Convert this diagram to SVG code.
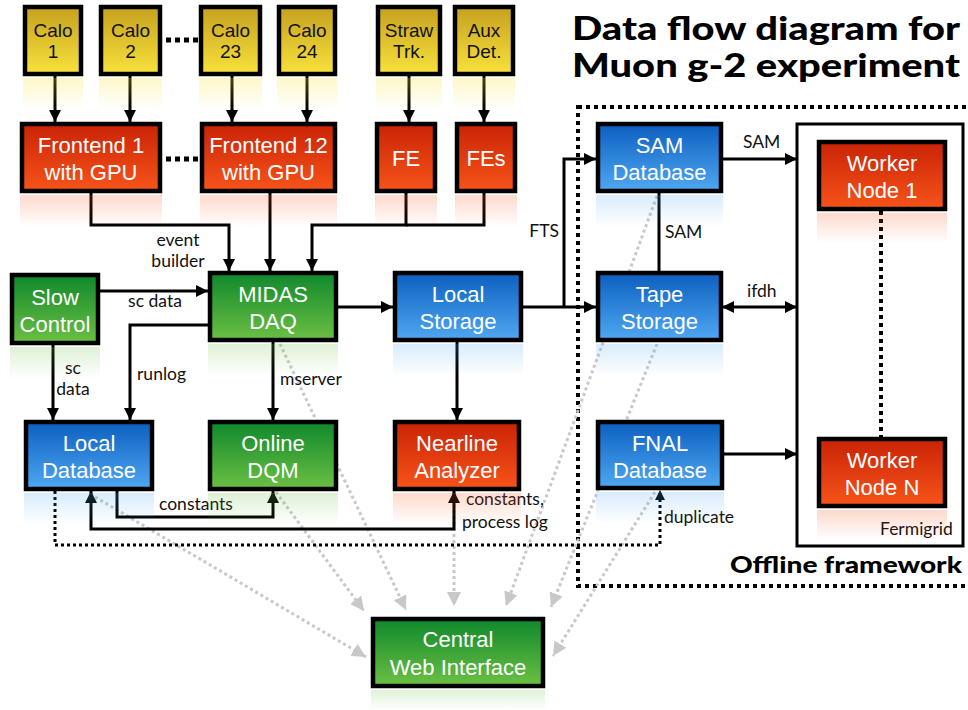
<svg xmlns="http://www.w3.org/2000/svg" width="968" height="710" viewBox="0 0 968 710">
  <style>
    .box { stroke: #000; stroke-width: 4.5; }
    .lbl { font-family: "Liberation Sans", Arial, sans-serif; font-size: 22px; fill: #fff; text-anchor: middle; }
    .ylbl { font-family: "Liberation Sans", Arial, sans-serif; font-size: 19px; fill: #111; text-anchor: middle; }
    .note { font-family: Lato, "Open Sans", sans-serif; font-size: 17.5px; fill: #111; }
    .title { font-family: Lato, "Open Sans", sans-serif; font-weight: 900; fill: #000; }
    .wire { fill: none; stroke: #000; stroke-width: 3; }
    .web { fill: none; stroke: #c8c8c8; stroke-width: 3; stroke-dasharray: 3 3; marker-end: url(#ahGrey); }
    .dots { fill: none; stroke: #000; stroke-width: 4; stroke-dasharray: 4 4; }
    .fine { fill: none; stroke: #000; stroke-width: 3; stroke-dasharray: 3 3; }
  </style>
  <defs>
    <linearGradient id="gYel" x1="0" y1="0" x2="0" y2="1"><stop offset="0" stop-color="#c6a11f"/><stop offset="1" stop-color="#f8e23c"/></linearGradient>
    <linearGradient id="gRed" x1="0" y1="0" x2="0" y2="1"><stop offset="0" stop-color="#c92306"/><stop offset="1" stop-color="#f7541a"/></linearGradient>
    <linearGradient id="gGrn" x1="0" y1="0" x2="0" y2="1"><stop offset="0" stop-color="#0f882c"/><stop offset="1" stop-color="#6cc043"/></linearGradient>
    <linearGradient id="gBlu" x1="0" y1="0" x2="0" y2="1"><stop offset="0" stop-color="#0c5fbf"/><stop offset="1" stop-color="#4fa8f2"/></linearGradient>
    <!-- faded mirror glow under each box -->
    <linearGradient id="rYel" x1="0" y1="0" x2="0" y2="1"><stop offset="0" stop-color="#f8e23c" stop-opacity="0.28"/><stop offset="1" stop-color="#f8e23c" stop-opacity="0"/></linearGradient>
    <linearGradient id="rRed" x1="0" y1="0" x2="0" y2="1"><stop offset="0" stop-color="#f7541a" stop-opacity="0.22"/><stop offset="1" stop-color="#f7541a" stop-opacity="0"/></linearGradient>
    <linearGradient id="rGrn" x1="0" y1="0" x2="0" y2="1"><stop offset="0" stop-color="#6cc043" stop-opacity="0.22"/><stop offset="1" stop-color="#6cc043" stop-opacity="0"/></linearGradient>
    <linearGradient id="rBlu" x1="0" y1="0" x2="0" y2="1"><stop offset="0" stop-color="#4fa8f2" stop-opacity="0.22"/><stop offset="1" stop-color="#4fa8f2" stop-opacity="0"/></linearGradient>
    <marker id="ah" viewBox="0 0 12 12" refX="12" refY="6" markerWidth="12" markerHeight="12" markerUnits="userSpaceOnUse" orient="auto-start-reverse">
      <path d="M0,0 L12,6 L0,12 z" fill="#000"/>
    </marker>
    <marker id="ahSmall" viewBox="0 0 10 10" refX="10" refY="5" markerWidth="10" markerHeight="10" markerUnits="userSpaceOnUse" orient="auto">
      <path d="M0,0 L10,5 L0,10 z" fill="#000"/>
    </marker>
    <marker id="ahGrey" viewBox="0 0 14 14" refX="14" refY="7" markerWidth="14" markerHeight="14" markerUnits="userSpaceOnUse" orient="auto">
      <path d="M0,0 L14,7 L0,14 z" fill="#c8c8c8"/>
    </marker>
  </defs>

  <rect width="968" height="710" fill="#fff"/>

  <!-- title -->
  <g id="title">
    <text class="title" x="572" y="40" font-size="32" textLength="388" lengthAdjust="spacingAndGlyphs">Data flow diagram for</text>
    <text class="title" x="572" y="77" font-size="32" textLength="388" lengthAdjust="spacingAndGlyphs">Muon g-2 experiment</text>
  </g>

  <!-- offline framework region -->
  <g id="offline">
    <rect class="dots" x="578" y="107" width="394" height="479"/>
    <text class="title" x="730" y="573" font-size="22" textLength="232" lengthAdjust="spacingAndGlyphs">Offline framework</text>
  </g>

  <!-- fermigrid container -->
  <g id="fermigrid">
    <rect x="797" y="124" width="166" height="422" fill="#fff" stroke="#000" stroke-width="3"/>
    <text class="note" x="880" y="535" font-size="16">Fermigrid</text>
  </g>

  <!-- connectors -->
  <g id="connectors">
    <!-- web interface feeds -->
    <path class="web" d="M90,494 L366,657"/>
    <path class="web" d="M276,492 L364,611"/>
    <path class="web" d="M280,344 L406,610"/>
    <path class="web" d="M454,492 V606"/>
    <path class="web" d="M657,196 L506,606"/>
    <path class="web" d="M657,344 L551,607"/>
    <path class="web" d="M655,492 L553,656"/>

    <!-- detectors to frontends -->
    <path class="wire" d="M55,76 V122" marker-end="url(#ah)"/>
    <path class="wire" d="M130,76 V122" marker-end="url(#ah)"/>
    <path class="wire" d="M232,76 V122" marker-end="url(#ah)"/>
    <path class="wire" d="M307,76 V122" marker-end="url(#ah)"/>
    <path class="wire" d="M409,76 V122" marker-end="url(#ah)"/>
    <path class="wire" d="M484,76 V122" marker-end="url(#ah)"/>
    <path d="M166,40 H198" stroke="#000" stroke-width="5" stroke-dasharray="5 4"/>
    <path d="M166,159 H198" stroke="#000" stroke-width="5" stroke-dasharray="5 4"/>

    <!-- event builder -->
    <path class="wire" d="M91,193 V225 H229 V271" marker-end="url(#ah)"/>
    <path class="wire" d="M270,193 V271" marker-end="url(#ah)"/>
    <path class="wire" d="M406,193 V225 H312 V271" marker-end="url(#ah)"/>
    <path class="wire" d="M484,193 V225 H406"/>

    <!-- DAQ data path -->
    <path class="wire" d="M100,291 H208" marker-end="url(#ah)"/>
    <path class="wire" d="M338,307 H393" marker-end="url(#ah)"/>
    <path class="wire" d="M523,307 H596" marker-end="url(#ah)"/>
    <path class="wire" d="M564,307 V159 H596" marker-end="url(#ah)"/>
    <path class="wire" d="M722,159 H797" marker-end="url(#ah)"/>
    <path class="wire" d="M659,193 V271"/>
    <path class="wire" d="M722,307 H797" marker-start="url(#ah)" marker-end="url(#ah)"/>
    <path class="wire" d="M723,454 H797" marker-end="url(#ah)"/>

    <!-- downstream of DAQ -->
    <path class="wire" d="M208,325 H130 V420" marker-end="url(#ah)"/>
    <path class="wire" d="M53,345 V420" marker-end="url(#ah)"/>
    <path class="wire" d="M273,342 V420" marker-end="url(#ah)"/>
    <path class="wire" d="M457,342 V420" marker-end="url(#ah)"/>

    <!-- constants loops -->
    <path class="wire" d="M117,491 V517 H273 V491" marker-end="url(#ah)"/>
    <path class="wire" d="M454,491 V529 H91 V491" marker-start="url(#ah)" marker-end="url(#ah)"/>
    <path class="fine" d="M55,491 V545 H660 V490" marker-end="url(#ahSmall)"/>

    <!-- worker nodes -->
    <path class="dots" d="M881,211 V437"/>

    <!-- labels -->
    <text class="note" x="178" y="246" text-anchor="middle">event</text>
    <text class="note" x="178" y="267" text-anchor="middle">builder</text>
    <text class="note" x="155" y="307" text-anchor="middle">sc data</text>
    <text class="note" x="73" y="374" text-anchor="middle">sc</text>
    <text class="note" x="73" y="395" text-anchor="middle">data</text>
    <text class="note" x="137" y="380">runlog</text>
    <text class="note" x="280" y="385">mserver</text>
    <text class="note" x="559" y="237" text-anchor="end">FTS</text>
    <text class="note" x="665" y="238">SAM</text>
    <text class="note" x="743" y="148">SAM</text>
    <text class="note" x="747" y="297">ifdh</text>
    <text class="note" x="159" y="510">constants</text>
    <text class="note" x="466" y="505">constants,</text>
    <text class="note" x="462" y="528">process log</text>
    <text class="note" x="664" y="523">duplicate</text>
  </g>

  <!-- detector readouts -->
  <g id="calo1">
    <rect x="23" y="78" width="60" height="32" fill="url(#rYel)"/>
    <rect class="box" x="25" y="7" width="56" height="67" fill="url(#gYel)"/>
    <text class="ylbl" x="53" y="37">Calo</text><text class="ylbl" x="53" y="58">1</text>
  </g>
  <g id="calo2">
    <rect x="99" y="78" width="63" height="32" fill="url(#rYel)"/>
    <rect class="box" x="101" y="7" width="59" height="67" fill="url(#gYel)"/>
    <text class="ylbl" x="130.5" y="37">Calo</text><text class="ylbl" x="130.5" y="58">2</text>
  </g>
  <g id="calo23">
    <rect x="199" y="78" width="63" height="32" fill="url(#rYel)"/>
    <rect class="box" x="201" y="7" width="59" height="67" fill="url(#gYel)"/>
    <text class="ylbl" x="230.5" y="37">Calo</text><text class="ylbl" x="230.5" y="58">23</text>
  </g>
  <g id="calo24">
    <rect x="277" y="78" width="60" height="32" fill="url(#rYel)"/>
    <rect class="box" x="279" y="7" width="56" height="67" fill="url(#gYel)"/>
    <text class="ylbl" x="307" y="37">Calo</text><text class="ylbl" x="307" y="58">24</text>
  </g>
  <g id="straw">
    <rect x="376" y="78" width="66" height="32" fill="url(#rYel)"/>
    <rect class="box" x="378" y="7" width="62" height="67" fill="url(#gYel)"/>
    <text class="ylbl" x="409" y="37" font-size="18">Straw</text><text class="ylbl" x="409" y="58" font-size="18">Trk.</text>
  </g>
  <g id="aux">
    <rect x="453" y="78" width="62" height="32" fill="url(#rYel)"/>
    <rect class="box" x="455" y="7" width="58" height="67" fill="url(#gYel)"/>
    <text class="ylbl" x="484" y="37" font-size="18">Aux</text><text class="ylbl" x="484" y="58" font-size="18">Det.</text>
  </g>

  <!-- frontends -->
  <g id="frontend1">
    <rect x="20" y="195" width="142" height="32" fill="url(#rRed)"/>
    <rect class="box" x="22" y="124" width="138" height="67" fill="url(#gRed)"/>
    <text class="lbl" x="91" y="153">Frontend 1</text><text class="lbl" x="91" y="180">with GPU</text>
  </g>
  <g id="frontend12">
    <rect x="200" y="195" width="137" height="32" fill="url(#rRed)"/>
    <rect class="box" x="202" y="124" width="133" height="67" fill="url(#gRed)"/>
    <text class="lbl" x="268.5" y="153">Frontend 12</text><text class="lbl" x="268.5" y="180">with GPU</text>
  </g>
  <g id="fe">
    <rect x="375" y="195" width="62" height="32" fill="url(#rRed)"/>
    <rect class="box" x="377" y="124" width="58" height="67" fill="url(#gRed)"/>
    <text class="lbl" x="406" y="166">FE</text>
  </g>
  <g id="fes">
    <rect x="455" y="195" width="62" height="32" fill="url(#rRed)"/>
    <rect class="box" x="457" y="124" width="58" height="67" fill="url(#gRed)"/>
    <text class="lbl" x="486" y="166">FEs</text>
  </g>

  <!-- online systems -->
  <g id="slowcontrol">
    <rect x="10" y="347" width="90" height="32" fill="url(#rGrn)"/>
    <rect class="box" x="12" y="275" width="86" height="68" fill="url(#gGrn)"/>
    <text class="lbl" x="55" y="305">Slow</text><text class="lbl" x="55" y="332">Control</text>
  </g>
  <g id="midas">
    <rect x="208" y="344" width="130" height="32" fill="url(#rGrn)"/>
    <rect class="box" x="210" y="273" width="126" height="67" fill="url(#gGrn)"/>
    <text class="lbl" x="273" y="302">MIDAS</text><text class="lbl" x="273" y="329">DAQ</text>
  </g>
  <g id="localstorage">
    <rect x="393" y="344" width="130" height="32" fill="url(#rBlu)"/>
    <rect class="box" x="395" y="273" width="126" height="67" fill="url(#gBlu)"/>
    <text class="lbl" x="458" y="302">Local</text><text class="lbl" x="458" y="329">Storage</text>
  </g>
  <g id="samdb">
    <rect x="596" y="195" width="127" height="32" fill="url(#rBlu)"/>
    <rect class="box" x="598" y="124" width="123" height="67" fill="url(#gBlu)"/>
    <text class="lbl" x="659.5" y="153">SAM</text><text class="lbl" x="659.5" y="180">Database</text>
  </g>
  <g id="tape">
    <rect x="596" y="344" width="127" height="32" fill="url(#rBlu)"/>
    <rect class="box" x="598" y="273" width="123" height="67" fill="url(#gBlu)"/>
    <text class="lbl" x="659.5" y="302">Tape</text><text class="lbl" x="659.5" y="329">Storage</text>
  </g>

  <g id="localdb">
    <rect x="24" y="493" width="130" height="32" fill="url(#rBlu)"/>
    <rect class="box" x="26" y="422" width="126" height="67" fill="url(#gBlu)"/>
    <text class="lbl" x="89" y="451">Local</text><text class="lbl" x="89" y="478">Database</text>
  </g>
  <g id="dqm">
    <rect x="208" y="493" width="130" height="32" fill="url(#rGrn)"/>
    <rect class="box" x="210" y="422" width="126" height="67" fill="url(#gGrn)"/>
    <text class="lbl" x="273" y="451">Online</text><text class="lbl" x="273" y="478">DQM</text>
  </g>
  <g id="nearline">
    <rect x="393" y="493" width="128" height="32" fill="url(#rRed)"/>
    <rect class="box" x="395" y="422" width="124" height="67" fill="url(#gRed)"/>
    <text class="lbl" x="457" y="451">Nearline</text><text class="lbl" x="457" y="478">Analyzer</text>
  </g>
  <g id="fnaldb">
    <rect x="596" y="492" width="128" height="32" fill="url(#rBlu)"/>
    <rect class="box" x="598" y="422" width="124" height="66" fill="url(#gBlu)"/>
    <text class="lbl" x="660" y="451">FNAL</text><text class="lbl" x="660" y="478">Database</text>
  </g>

  <!-- grid workers -->
  <g id="worker1">
    <rect x="817" y="213" width="130" height="30" fill="url(#rRed)"/>
    <rect class="box" x="819" y="142" width="126" height="67" fill="url(#gRed)"/>
    <text class="lbl" x="882" y="171">Worker</text><text class="lbl" x="882" y="198">Node 1</text>
  </g>
  <g id="workerN">
    <rect x="817" y="510" width="130" height="30" fill="url(#rRed)"/>
    <rect class="box" x="819" y="439" width="126" height="67" fill="url(#gRed)"/>
    <text class="lbl" x="882" y="468">Worker</text><text class="lbl" x="882" y="495">Node N</text>
  </g>

  <!-- web front end -->
  <g id="centralweb">
    <rect x="371" y="690" width="174" height="20" fill="url(#rGrn)"/>
    <rect class="box" x="373" y="619" width="170" height="67" fill="url(#gGrn)"/>
    <text class="lbl" x="458" y="647">Central</text><text class="lbl" x="458" y="675">Web Interface</text>
  </g>
</svg>
